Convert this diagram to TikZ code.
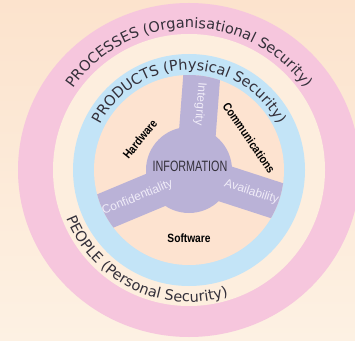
\documentclass[tikz,border=0pt]{standalone}
\usepackage{fontspec}
\setmainfont{Liberation Sans}
\newfontfamily\ringfont{DejaVu Sans}
\usepackage{graphicx}
\usetikzlibrary{decorations.text}
\definecolor{bgtop}{RGB}{252,227,205}
\definecolor{bgbot}{RGB}{253,241,227}
\definecolor{ringpink}{RGB}{246,198,221}
\definecolor{ringcream}{RGB}{253,238,222}
\definecolor{ringblue}{RGB}{195,228,247}
\definecolor{corepeach}{RGB}{253,227,208}
\definecolor{infopurple}{RGB}{186,178,215}
\definecolor{armtext}{RGB}{240,236,248}
\definecolor{inktext}{RGB}{52,48,58}
\newcommand{\narrowbold}[1]{\scalebox{0.85}[1]{#1}}

\begin{document}
\begin{tikzpicture}[x=1pt,y=1pt,
    armlabel/.style={text=armtext, inner sep=0pt, font=\fontsize{12}{12}\selectfont},
    layerlabel/.style={text=black, inner sep=0pt, font=\bfseries\fontsize{12}{12}\selectfont},
    ringlabel/.style={decorate, decoration={text along path, text align=center,
      text={|\ringfont\fontsize{14.5}{14.5}\selectfont\color{inktext}|#1}}}]
  \shade[top color=bgtop, bottom color=bgbot] (0,0) rectangle (355,340);
  \useasboundingbox (0,0) rectangle (355,340);
  \coordinate (c) at (189,170);
  \fill[ringpink] (c) ellipse [x radius=171, y radius=167];
  \fill[ringcream] (c) circle (136);
  \fill[ringblue] (c) circle (116);
  \fill[corepeach] (c) circle (95);
  % core and the three arms
  \begin{scope}
    \clip (c) circle (95);
    \fill[infopurple] (c) circle (43);
    \foreach \ang/\off in {85.6/-5.5, 202.7/5.5, -18/-2}
      \fill[infopurple, shift={(c)}, rotate=\ang] (0,\off-18.5) rectangle (100,\off+18.5);
  \end{scope}
  \node[text=inktext, inner sep=0pt] (info) at (190,174) {\scalebox{0.72}[1]{\fontsize{15}{15}\selectfont INFORMATION}};
  \node[armlabel, rotate=-94.4] (integ) at (200,236) {Integrity};
  \node[armlabel, rotate=22.7] (confid) at (137.5,142.5) {Confidentiality};
  \node[armlabel, rotate=-18] (avail) at (251.5,148) {Availability};
  \node[layerlabel, rotate=51] (hardw) at (140,201) {\narrowbold{Hardware}};
  \node[layerlabel, rotate=-55.6] (comms) at (249,202) {\narrowbold{Communications}};
  \node[layerlabel] (softw) at (189,102) {\narrowbold{Software}};
  % ring texts
  \path[ringlabel={PROCESSES (Organisational Security)}] ([shift={(150:142)}]c) arc[start angle=150, end angle=30, radius=142];
  \path[ringlabel={PRODUCTS (Physical Security)}] ([shift={(160:100)}]c) arc[start angle=160, end angle=20, radius=100];
  \path[ringlabel={PEOPLE (Personal Security)}] ([shift={(189.5:132)}]c) arc[start angle=189.5, end angle=299.5, radius=132];
\end{tikzpicture}
\end{document}
